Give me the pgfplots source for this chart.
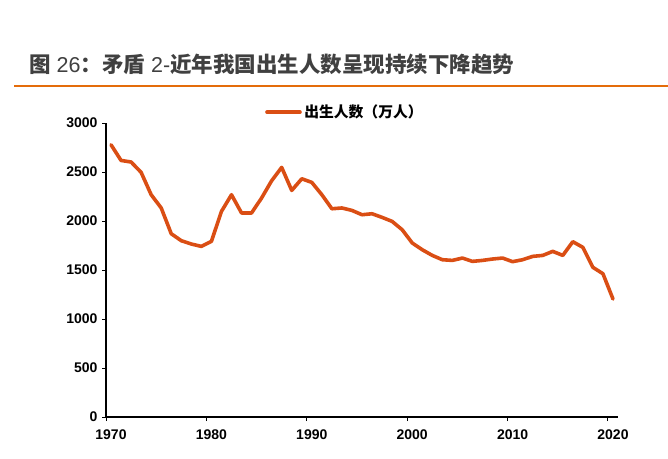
\documentclass[border=0pt]{standalone}
\usepackage{pgfplots}
\pgfplotsset{compat=1.18}
\usepackage{fontspec}
\setmainfont{Liberation Sans}
\newfontfamily\cjk{Noto Sans CJK SC}
\definecolor{lineor}{RGB}{218,78,20}
\definecolor{ruleor}{RGB}{228,108,10}
\definecolor{titlegray}{RGB}{64,64,64}
\begin{document}
\begin{tikzpicture}[x=1pt,y=1pt]
\path[use as bounding box] (0,0) rectangle (668,-458);
\node[anchor=base west, inner sep=0pt, text=titlegray] at (29,-72.5)
  {\fontsize{21.5}{21.5}\selectfont{\cjk\bfseries 图} 26{\cjk\bfseries ：矛盾} 2-{\cjk\bfseries 近年我国出生人数呈现持续下降趋势}};
\draw[ruleor, line width=2pt] (14,-85.7) -- (668,-85.7);
\begin{axis}[
  at={(106pt,-417pt)}, anchor=south west,
  scale only axis, width=512pt, height=294pt,
  xmin=1970, xmax=2021, ymin=0, ymax=3000,
  axis lines*=left,
  axis line style={black, line width=1.2pt, -},
  xtick={1970,1980,1990,2000,2010,2020},
  ytick={0,500,1000,1500,2000,2500,3000},
  tick align=outside,
  major tick length=4pt,
  tick style={black, line width=1pt},
  /pgf/number format/assume math mode=true,
  /pgf/number format/1000 sep={},
  ticklabel style={font=\fontsize{14}{14}\selectfont\bfseries},
  xticklabel style={xshift=5pt, yshift=-5pt},
  yticklabel style={xshift=-1pt},
  legend style={at={(0.3105,1.037)}, anchor=west, draw=none, fill=none,
    inner sep=0pt, nodes={inner sep=2.5pt, font=\fontsize{14.8}{14.8}\selectfont\cjk\bfseries}},
  legend image code/.code={\draw[#1] (0pt,0pt) -- (33pt,0pt);},
  clip=false,
]
\addplot[lineor, line width=3.6pt, line join=round, line cap=round] coordinates {
(1970.5,2778) (1971.5,2618) (1972.5,2602) (1973.5,2496) (1974.5,2268)
(1975.5,2133) (1976.5,1870) (1977.5,1799) (1978.5,1765) (1979.5,1741)
(1980.5,1792) (1981.5,2098) (1982.5,2268) (1983.5,2082) (1984.5,2082)
(1985.5,2235) (1986.5,2411) (1987.5,2547) (1988.5,2312) (1989.5,2431)
(1990.5,2394) (1991.5,2268) (1992.5,2125) (1993.5,2133) (1994.5,2108)
(1995.5,2064) (1996.5,2074) (1997.5,2037) (1998.5,1996) (1999.5,1911)
(2000.5,1776) (2001.5,1707) (2002.5,1649) (2003.5,1605) (2004.5,1598)
(2005.5,1622) (2006.5,1588) (2007.5,1598) (2008.5,1612) (2009.5,1622)
(2010.5,1585) (2011.5,1605) (2012.5,1639) (2013.5,1649) (2014.5,1690)
(2015.5,1649) (2016.5,1789) (2017.5,1731) (2018.5,1527) (2019.5,1462)
(2020.5,1204)
};
\addlegendentry{出生人数（万人）}
\end{axis}
\end{tikzpicture}
\end{document}
